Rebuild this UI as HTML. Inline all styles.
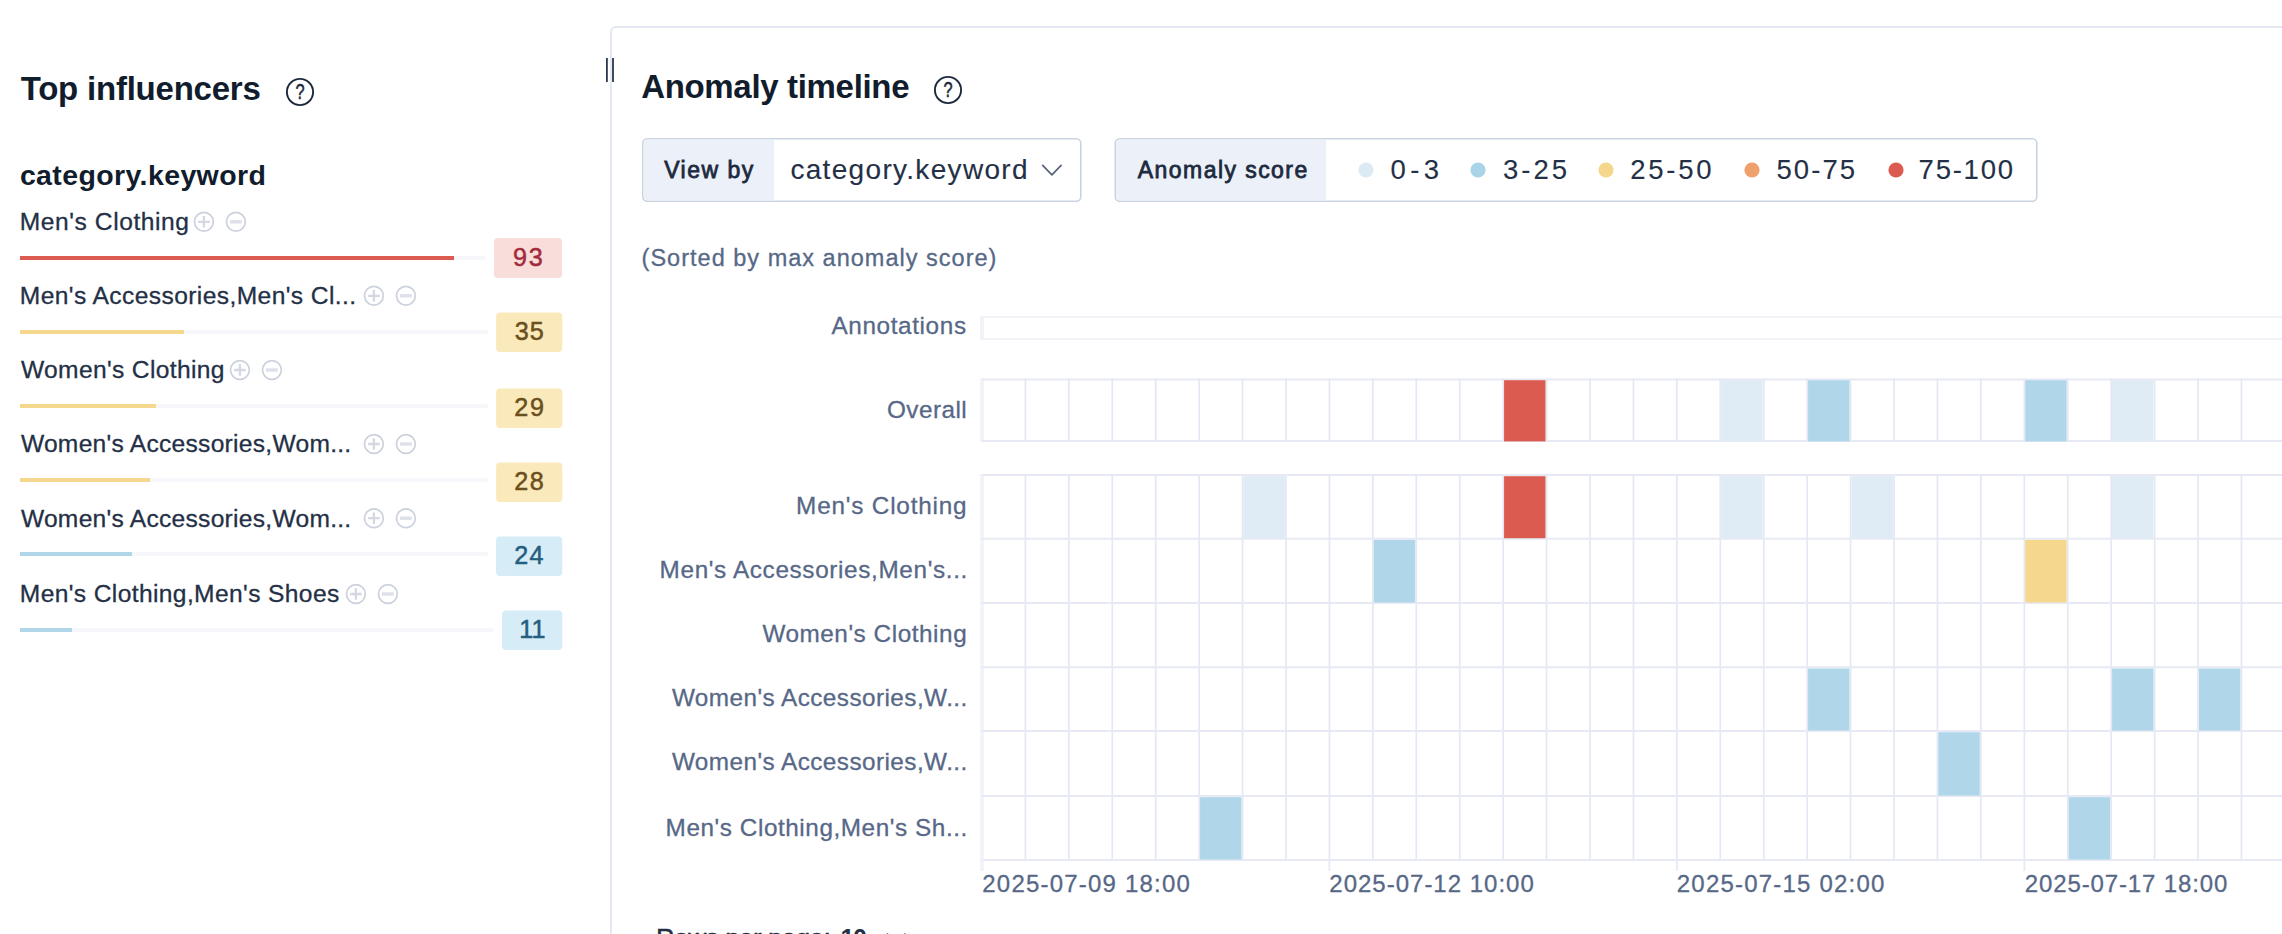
<!DOCTYPE html>
<html lang="en">
<head>
<meta charset="utf-8">
<title>Anomaly Explorer</title>
<style>
html,body{margin:0;padding:0;background:#fff}
body{width:2282px;height:934px;overflow:hidden;position:relative;font-family:"Liberation Sans",sans-serif}
section{position:absolute;left:0;top:0;width:2282px;height:934px;overflow:hidden;pointer-events:none}
.t{position:absolute;display:block;white-space:nowrap;margin:0;padding:0}
.b{position:absolute;display:block}
.w{display:block;position:static;margin:0;padding:0;border:0;list-style:none;width:0;height:0}
</style>
</head>
<body>
<section class="panel-left" aria-label="Top influencers">
<h2 class="t" style="left:20.70px;top:72.27px;font-size:33px;line-height:33px;font-weight:700;color:#111C2C;letter-spacing:-0.221px;">Top influencers</h2>
<svg class="b" style="left:285px;top:77px" width="30" height="30" viewBox="0 0 30 30"><circle cx="15" cy="15" r="13.1" fill="none" stroke="#1D2A3E" stroke-width="1.9"/><text x="15" y="22.2" transform="translate(15 22.2) scale(.8 1.07) translate(-15 -22.4)" text-anchor="middle" font-family="Liberation Sans, sans-serif" font-size="20.5" font-weight="400" stroke="#1D2A3E" stroke-width="0.5" fill="#1D2A3E">?</text></svg>
<h3 class="t" style="left:19.90px;top:161.17px;font-size:28.5px;line-height:28.5px;font-weight:700;color:#111C2C;letter-spacing:0.380px;">category.keyword</h3>
<ul class="w influencers">
<li class="w influencer">
<span class="t" style="left:19.80px;top:209.88px;font-size:24.6px;line-height:24.6px;font-weight:400;-webkit-text-stroke:0.3px #243046;color:#243046;letter-spacing:0.562px;">Men's Clothing</span>
<svg class="b" style="left:192px;top:210px" width="23" height="23" viewBox="0 0 23 23"><circle cx="11.90" cy="11.80" r="9.4" fill="none" stroke="#CBD1DD" stroke-width="1.7"/><path d="M6.10 11.80h11.6M11.90 6.00v11.6" stroke="#D3D8E2" stroke-width="2.3" fill="none"/></svg>
<svg class="b" style="left:224px;top:210px" width="23" height="23" viewBox="0 0 23 23"><circle cx="11.90" cy="11.80" r="9.4" fill="none" stroke="#CBD1DD" stroke-width="1.7"/><path d="M6.00 11.80h11.8" stroke="#DEE1E9" stroke-width="3.4" fill="none"/></svg>
<div class="b track" style="left:20px;top:256px;width:466px;height:4px;background:#F5F7FA;border-radius:0 2px 2px 0"></div>
<div class="b fill" style="left:20px;top:256px;width:434px;height:4px;background:#DC5B50"></div>
<svg class="b" style="left:492px;top:236px" width="74" height="46"><rect x="2" y="2" width="68" height="40" rx="4" fill="#F8DDDA"/></svg>
<span class="t score" style="left:513.10px;top:244.67px;font-size:25.2px;line-height:25.2px;font-weight:400;-webkit-text-stroke:0.3px #A32B3C;color:#A32B3C;letter-spacing:1.700px;-webkit-text-stroke:0.5px #A32B3C">93</span>
</li>
<li class="w influencer">
<span class="t" style="left:19.80px;top:283.88px;font-size:24.6px;line-height:24.6px;font-weight:400;-webkit-text-stroke:0.3px #243046;color:#243046;letter-spacing:0.400px;">Men's Accessories,Men's Cl...</span>
<svg class="b" style="left:362px;top:284px" width="23" height="23" viewBox="0 0 23 23"><circle cx="11.90" cy="11.80" r="9.4" fill="none" stroke="#CBD1DD" stroke-width="1.7"/><path d="M6.10 11.80h11.6M11.90 6.00v11.6" stroke="#D3D8E2" stroke-width="2.3" fill="none"/></svg>
<svg class="b" style="left:394px;top:284px" width="23" height="23" viewBox="0 0 23 23"><circle cx="11.90" cy="11.80" r="9.4" fill="none" stroke="#CBD1DD" stroke-width="1.7"/><path d="M6.00 11.80h11.8" stroke="#DEE1E9" stroke-width="3.4" fill="none"/></svg>
<div class="b track" style="left:20px;top:330px;width:468px;height:4px;background:#F5F7FA;border-radius:0 2px 2px 0"></div>
<div class="b fill" style="left:20px;top:330px;width:164px;height:4px;background:#F5D88D"></div>
<svg class="b" style="left:494px;top:310px" width="72" height="45"><rect x="2.1000000000000227" y="2.5" width="66.2" height="39.5" rx="4" fill="#FAE9BA"/></svg>
<span class="t score" style="left:514.65px;top:318.92px;font-size:25.2px;line-height:25.2px;font-weight:400;-webkit-text-stroke:0.3px #6B4F1C;color:#6B4F1C;letter-spacing:1.200px;-webkit-text-stroke:0.5px #6B4F1C">35</span>
</li>
<li class="w influencer">
<span class="t" style="left:20.90px;top:357.88px;font-size:24.6px;line-height:24.6px;font-weight:400;-webkit-text-stroke:0.3px #243046;color:#243046;letter-spacing:0.353px;">Women's Clothing</span>
<svg class="b" style="left:228px;top:359px" width="23" height="23" viewBox="0 0 23 23"><circle cx="11.90" cy="11.00" r="9.4" fill="none" stroke="#CBD1DD" stroke-width="1.7"/><path d="M6.10 11.00h11.6M11.90 5.20v11.6" stroke="#D3D8E2" stroke-width="2.3" fill="none"/></svg>
<svg class="b" style="left:260px;top:359px" width="23" height="23" viewBox="0 0 23 23"><circle cx="11.90" cy="11.00" r="9.4" fill="none" stroke="#CBD1DD" stroke-width="1.7"/><path d="M6.00 11.00h11.8" stroke="#DEE1E9" stroke-width="3.4" fill="none"/></svg>
<div class="b track" style="left:20px;top:404px;width:468px;height:4px;background:#F5F7FA;border-radius:0 2px 2px 0"></div>
<div class="b fill" style="left:20px;top:404px;width:136px;height:4px;background:#F5D88D"></div>
<svg class="b" style="left:494px;top:386px" width="72" height="45"><rect x="2.1000000000000227" y="2.5" width="66.2" height="39.5" rx="4" fill="#FAE9BA"/></svg>
<span class="t score" style="left:514.35px;top:394.92px;font-size:25.2px;line-height:25.2px;font-weight:400;-webkit-text-stroke:0.3px #6B4F1C;color:#6B4F1C;letter-spacing:1.600px;-webkit-text-stroke:0.5px #6B4F1C">29</span>
</li>
<li class="w influencer">
<span class="t" style="left:20.90px;top:431.88px;font-size:24.6px;line-height:24.6px;font-weight:400;-webkit-text-stroke:0.3px #243046;color:#243046;letter-spacing:0.268px;">Women's Accessories,Wom...</span>
<svg class="b" style="left:362px;top:433px" width="23" height="23" viewBox="0 0 23 23"><circle cx="11.90" cy="11.00" r="9.4" fill="none" stroke="#CBD1DD" stroke-width="1.7"/><path d="M6.10 11.00h11.6M11.90 5.20v11.6" stroke="#D3D8E2" stroke-width="2.3" fill="none"/></svg>
<svg class="b" style="left:394px;top:433px" width="23" height="23" viewBox="0 0 23 23"><circle cx="11.90" cy="11.00" r="9.4" fill="none" stroke="#CBD1DD" stroke-width="1.7"/><path d="M6.00 11.00h11.8" stroke="#DEE1E9" stroke-width="3.4" fill="none"/></svg>
<div class="b track" style="left:20px;top:478px;width:468px;height:4px;background:#F5F7FA;border-radius:0 2px 2px 0"></div>
<div class="b fill" style="left:20px;top:478px;width:130px;height:4px;background:#F5D88D"></div>
<svg class="b" style="left:494px;top:460px" width="72" height="45"><rect x="2.1000000000000227" y="2.5" width="66.2" height="39.5" rx="4" fill="#FAE9BA"/></svg>
<span class="t score" style="left:514.35px;top:468.92px;font-size:25.2px;line-height:25.2px;font-weight:400;-webkit-text-stroke:0.3px #6B4F1C;color:#6B4F1C;letter-spacing:1.500px;-webkit-text-stroke:0.5px #6B4F1C">28</span>
</li>
<li class="w influencer">
<span class="t" style="left:20.90px;top:507.38px;font-size:24.6px;line-height:24.6px;font-weight:400;-webkit-text-stroke:0.3px #243046;color:#243046;letter-spacing:0.268px;">Women's Accessories,Wom...</span>
<svg class="b" style="left:362px;top:507px" width="23" height="23" viewBox="0 0 23 23"><circle cx="11.90" cy="11.20" r="9.4" fill="none" stroke="#CBD1DD" stroke-width="1.7"/><path d="M6.10 11.20h11.6M11.90 5.40v11.6" stroke="#D3D8E2" stroke-width="2.3" fill="none"/></svg>
<svg class="b" style="left:394px;top:507px" width="23" height="23" viewBox="0 0 23 23"><circle cx="11.90" cy="11.20" r="9.4" fill="none" stroke="#CBD1DD" stroke-width="1.7"/><path d="M6.00 11.20h11.8" stroke="#DEE1E9" stroke-width="3.4" fill="none"/></svg>
<div class="b track" style="left:20px;top:552px;width:468px;height:4px;background:#F5F7FA;border-radius:0 2px 2px 0"></div>
<div class="b fill" style="left:20px;top:552px;width:112px;height:4px;background:#B0D6EA"></div>
<svg class="b" style="left:494px;top:534px" width="72" height="45"><rect x="2.1000000000000227" y="2.5" width="66.2" height="39.5" rx="4" fill="#D6ECF7"/></svg>
<span class="t score" style="left:514.35px;top:542.92px;font-size:25.2px;line-height:25.2px;font-weight:400;-webkit-text-stroke:0.3px #245E80;color:#245E80;letter-spacing:1.200px;-webkit-text-stroke:0.5px #245E80">24</span>
</li>
<li class="w influencer">
<span class="t" style="left:19.80px;top:581.88px;font-size:24.6px;line-height:24.6px;font-weight:400;-webkit-text-stroke:0.3px #243046;color:#243046;letter-spacing:0.372px;">Men's Clothing,Men's Shoes</span>
<svg class="b" style="left:344px;top:583px" width="23" height="23" viewBox="0 0 23 23"><circle cx="11.90" cy="11.00" r="9.4" fill="none" stroke="#CBD1DD" stroke-width="1.7"/><path d="M6.10 11.00h11.6M11.90 5.20v11.6" stroke="#D3D8E2" stroke-width="2.3" fill="none"/></svg>
<svg class="b" style="left:376px;top:583px" width="23" height="23" viewBox="0 0 23 23"><circle cx="11.90" cy="11.00" r="9.4" fill="none" stroke="#CBD1DD" stroke-width="1.7"/><path d="M6.00 11.00h11.8" stroke="#DEE1E9" stroke-width="3.4" fill="none"/></svg>
<div class="b track" style="left:20px;top:628px;width:474px;height:4px;background:#F5F7FA;border-radius:0 2px 2px 0"></div>
<div class="b fill" style="left:20px;top:628px;width:52px;height:4px;background:#B0D6EA"></div>
<svg class="b" style="left:500px;top:608px" width="66" height="45"><rect x="2.1000000000000227" y="2.5" width="60.2" height="39.5" rx="4" fill="#D6ECF7"/></svg>
<span class="t score" style="left:519.30px;top:616.92px;font-size:25.2px;line-height:25.2px;font-weight:400;-webkit-text-stroke:0.3px #245E80;color:#245E80;letter-spacing:0.000px;-webkit-text-stroke:0.5px #245E80">11</span>
</li>
</ul>
</section>
<section class="panel-right" aria-label="Anomaly timeline">
<div class="b panel" style="left:610px;top:26px;width:1700px;height:940px;border:2px solid #E3E8F2;border-radius:6px;box-sizing:border-box"></div>
<svg class="b" style="left:600px;top:54px" width="20" height="32"><path d="M6.9 4v24M13 4v24" stroke="#2B3850" stroke-width="1.8" fill="none"/></svg>
<h2 class="t" style="left:641.20px;top:70.27px;font-size:33px;line-height:33px;font-weight:700;color:#111C2C;letter-spacing:-0.327px;">Anomaly timeline</h2>
<svg class="b" style="left:933px;top:75px" width="30" height="30" viewBox="0 0 30 30"><circle cx="15" cy="15" r="13.1" fill="none" stroke="#1D2A3E" stroke-width="1.9"/><text x="15" y="22.2" transform="translate(15 22.2) scale(.8 1.07) translate(-15 -22.4)" text-anchor="middle" font-family="Liberation Sans, sans-serif" font-size="20.5" font-weight="400" stroke="#1D2A3E" stroke-width="0.5" fill="#1D2A3E">?</text></svg>
<div class="w controls">
<div class="w viewby">
<svg class="b" style="left:640px;top:136px" width="446" height="68" viewBox="0 0 446 68"><rect x="2.8" y="2.8" width="438.0" height="62.4" rx="4.5" fill="#fff" stroke="#CAD3E2" stroke-width="1.6"/><path d="M8.5 3.6H134V64.4H8.5a5 5 0 0 1-5-5V8.6a5 5 0 0 1 5-5z" fill="#ECF1F9"/></svg>
<label class="t" style="left:664.20px;top:158.53px;font-size:23px;line-height:23px;font-weight:400;-webkit-text-stroke:0.3px #1D2A3E;color:#1D2A3E;letter-spacing:1.500px;-webkit-text-stroke:0.8px #1D2A3E">View by</label>
<span class="t" role="combobox" style="left:790.40px;top:156.30px;font-size:28px;line-height:28px;font-weight:400;-webkit-text-stroke:0.12px #243046;color:#243046;letter-spacing:1.320px;">category.keyword</span>
<svg class="b" style="left:1040px;top:160px" width="24" height="20" viewBox="0 0 24 20"><path d="M2.7 5.4L11.9 14.8 21.1 5.4" fill="none" stroke="#566378" stroke-width="1.7" stroke-linecap="round" stroke-linejoin="round"/></svg>
</div>
<div class="w legend">
<svg class="b" style="left:1112px;top:136px" width="930" height="68" viewBox="0 0 930 68"><rect x="3.3" y="2.8" width="921.5" height="62.4" rx="4.5" fill="#fff" stroke="#CAD3E2" stroke-width="1.6"/><path d="M9 3.6H214V64.4H9a5 5 0 0 1-5-5V8.6a5 5 0 0 1 5-5z" fill="#ECF1F9"/></svg>
<label class="t" style="left:1137.80px;top:158.73px;font-size:23px;line-height:23px;font-weight:400;-webkit-text-stroke:0.3px #1D2A3E;color:#1D2A3E;letter-spacing:1.442px;-webkit-text-stroke:0.8px #1D2A3E">Anomaly score</label>
<ul class="w">
<li class="w">
<svg class="b" style="left:1356px;top:160px" width="20" height="20"><circle cx="10" cy="10" r="7.6" fill="#DCEAF4"/></svg>
<span class="t" style="left:1390.50px;top:156.22px;font-size:27.5px;line-height:27.5px;font-weight:400;-webkit-text-stroke:0.12px #243046;color:#243046;letter-spacing:4.450px;">0-3</span>
</li>
<li class="w">
<svg class="b" style="left:1468px;top:160px" width="20" height="20"><circle cx="10" cy="10" r="7.6" fill="#A9D4E8"/></svg>
<span class="t" style="left:1503.00px;top:156.22px;font-size:27.5px;line-height:27.5px;font-weight:400;-webkit-text-stroke:0.12px #243046;color:#243046;letter-spacing:3.033px;">3-25</span>
</li>
<li class="w">
<svg class="b" style="left:1596px;top:160px" width="20" height="20"><circle cx="10" cy="10" r="7.6" fill="#F5D78C"/></svg>
<span class="t" style="left:1630.20px;top:156.22px;font-size:27.5px;line-height:27.5px;font-weight:400;-webkit-text-stroke:0.12px #243046;color:#243046;letter-spacing:2.750px;">25-50</span>
</li>
<li class="w">
<svg class="b" style="left:1742px;top:160px" width="20" height="20"><circle cx="10" cy="10" r="7.6" fill="#F0A06C"/></svg>
<span class="t" style="left:1776.40px;top:156.22px;font-size:27.5px;line-height:27.5px;font-weight:400;-webkit-text-stroke:0.12px #243046;color:#243046;letter-spacing:2.100px;">50-75</span>
</li>
<li class="w">
<svg class="b" style="left:1886px;top:160px" width="20" height="20"><circle cx="10" cy="10" r="7.6" fill="#DC5B50"/></svg>
<span class="t" style="left:1918.60px;top:156.22px;font-size:27.5px;line-height:27.5px;font-weight:400;-webkit-text-stroke:0.12px #243046;color:#243046;letter-spacing:1.760px;">75-100</span>
</li>
</ul>
</div>
</div>
<p class="t" style="left:641.60px;top:247.11px;font-size:23.5px;line-height:23.5px;font-weight:400;-webkit-text-stroke:0.3px #576887;color:#576887;letter-spacing:1.011px;">(Sorted by max anomaly score)</p>
<div class="w swimlanes">
<span class="t" style="left:831.50px;top:313.83px;font-size:24.3px;line-height:24.3px;font-weight:400;-webkit-text-stroke:0.3px #576887;color:#576887;letter-spacing:0.620px;">Annotations</span>
<span class="t" style="left:886.90px;top:397.83px;font-size:24.3px;line-height:24.3px;font-weight:400;-webkit-text-stroke:0.3px #576887;color:#576887;letter-spacing:0.483px;">Overall</span>
<span class="t" style="left:796.10px;top:493.83px;font-size:24.3px;line-height:24.3px;font-weight:400;-webkit-text-stroke:0.3px #576887;color:#576887;letter-spacing:0.815px;">Men's Clothing</span>
<span class="t" style="left:659.60px;top:557.83px;font-size:24.3px;line-height:24.3px;font-weight:400;-webkit-text-stroke:0.3px #576887;color:#576887;letter-spacing:0.648px;">Men's Accessories,Men's...</span>
<span class="t" style="left:762.40px;top:621.83px;font-size:24.3px;line-height:24.3px;font-weight:400;-webkit-text-stroke:0.3px #576887;color:#576887;letter-spacing:0.553px;">Women's Clothing</span>
<span class="t" style="left:671.90px;top:685.83px;font-size:24.3px;line-height:24.3px;font-weight:400;-webkit-text-stroke:0.3px #576887;color:#576887;letter-spacing:0.452px;">Women's Accessories,W...</span>
<span class="t" style="left:671.90px;top:749.83px;font-size:24.3px;line-height:24.3px;font-weight:400;-webkit-text-stroke:0.3px #576887;color:#576887;letter-spacing:0.452px;">Women's Accessories,W...</span>
<span class="t" style="left:665.60px;top:815.83px;font-size:24.3px;line-height:24.3px;font-weight:400;-webkit-text-stroke:0.3px #576887;color:#576887;letter-spacing:0.568px;">Men's Clothing,Men's Sh...</span>
<div class="b annotations" style="left:980px;top:316px;width:1320px;height:24px;border:2px solid #F0F2F8;border-left:4px solid #F1F3F9;box-sizing:border-box"></div>
<span class="t" style="left:982.30px;top:871.68px;font-size:24px;line-height:24px;font-weight:400;-webkit-text-stroke:0.3px #576887;color:#576887;letter-spacing:1.200px;">2025-07-09 18:00</span>
<span class="t" style="left:1329.30px;top:871.68px;font-size:24px;line-height:24px;font-weight:400;-webkit-text-stroke:0.3px #576887;color:#576887;letter-spacing:1.000px;">2025-07-12 10:00</span>
<span class="t" style="left:1676.80px;top:871.68px;font-size:24px;line-height:24px;font-weight:400;-webkit-text-stroke:0.3px #576887;color:#576887;letter-spacing:1.200px;">2025-07-15 02:00</span>
<span class="t" style="left:2024.80px;top:871.68px;font-size:24px;line-height:24px;font-weight:400;-webkit-text-stroke:0.3px #576887;color:#576887;letter-spacing:0.867px;">2025-07-17 18:00</span>
<svg class="b heatmap" style="left:0;top:0" width="2282" height="934" viewBox="0 0 2282 934" role="img" aria-label="Anomaly swim lanes"><path d="M982.0 378.5V442" stroke="#F1F3F9" stroke-width="3.8" fill="none"/><path d="M1025.43 378.5V442M1068.86 378.5V442M1112.29 378.5V442M1155.72 378.5V442M1199.15 378.5V442M1242.58 378.5V442M1286.01 378.5V442M1329.44 378.5V442M1372.87 378.5V442M1416.30 378.5V442M1459.73 378.5V442M1503.16 378.5V442M1546.59 378.5V442M1590.02 378.5V442M1633.45 378.5V442M1676.88 378.5V442M1720.31 378.5V442M1763.74 378.5V442M1807.17 378.5V442M1850.60 378.5V442M1894.03 378.5V442M1937.46 378.5V442M1980.89 378.5V442M2024.32 378.5V442M2067.75 378.5V442M2111.18 378.5V442M2154.61 378.5V442M2198.04 378.5V442M2241.47 378.5V442M2284.90 378.5V442" stroke="#E4E8F2" stroke-width="1.7" fill="none"/><path d="M981.5 379.5H2300M981.5 441H2300" stroke="#E7EAF4" stroke-width="2.1" fill="none"/><rect x="1504.06" y="380.20" width="41.43" height="61.20" fill="#DC5B50"/><rect x="1721.21" y="380.20" width="41.43" height="61.20" fill="#DFECF6"/><rect x="1808.07" y="380.20" width="41.43" height="61.20" fill="#B0D6EA"/><rect x="2025.22" y="380.20" width="41.43" height="61.20" fill="#B0D6EA"/><rect x="2112.08" y="380.20" width="41.43" height="61.20" fill="#DFECF6"/><path d="M982.0 474V861" stroke="#F1F3F9" stroke-width="3.8" fill="none"/><path d="M1025.43 474V861M1068.86 474V861M1112.29 474V861M1155.72 474V861M1199.15 474V861M1242.58 474V861M1286.01 474V861M1329.44 474V861M1372.87 474V861M1416.30 474V861M1459.73 474V861M1503.16 474V861M1546.59 474V861M1590.02 474V861M1633.45 474V861M1676.88 474V861M1720.31 474V861M1763.74 474V861M1807.17 474V861M1850.60 474V861M1894.03 474V861M1937.46 474V861M1980.89 474V861M2024.32 474V861M2067.75 474V861M2111.18 474V861M2154.61 474V861M2198.04 474V861M2241.47 474V861M2284.90 474V861" stroke="#E4E8F2" stroke-width="1.7" fill="none"/><path d="M981.5 475H2300M981.5 538.7H2300M981.5 603H2300M981.5 667.3H2300M981.5 731H2300M981.5 796H2300M981.5 860H2300" stroke="#E7EAF4" stroke-width="2.1" fill="none"/><rect x="1243.48" y="476.20" width="41.43" height="62.00" fill="#DFECF6"/><rect x="1504.06" y="476.20" width="41.43" height="62.00" fill="#DC5B50"/><rect x="1721.21" y="476.20" width="41.43" height="62.00" fill="#DFECF6"/><rect x="1851.50" y="476.20" width="41.43" height="62.00" fill="#DFECF6"/><rect x="2112.08" y="476.20" width="41.43" height="62.00" fill="#DFECF6"/><rect x="1373.77" y="539.90" width="41.43" height="62.60" fill="#B0D6EA"/><rect x="2025.22" y="539.90" width="41.43" height="62.60" fill="#F5D88D"/><rect x="1808.07" y="668.50" width="41.43" height="62.00" fill="#B0D6EA"/><rect x="2112.08" y="668.50" width="41.43" height="62.00" fill="#B0D6EA"/><rect x="2198.94" y="668.50" width="41.43" height="62.00" fill="#B0D6EA"/><rect x="1938.36" y="732.20" width="41.43" height="63.30" fill="#B0D6EA"/><rect x="1200.05" y="797.20" width="41.43" height="62.30" fill="#B0D6EA"/><rect x="2068.65" y="797.20" width="41.43" height="62.30" fill="#B0D6EA"/><path d="M982.00 860V871" stroke="#F1F3F9" stroke-width="3.4" fill="none"/><path d="M1329.44 860V871" stroke="#E7EAF4" stroke-width="1.8" fill="none"/><path d="M1676.88 860V871" stroke="#E7EAF4" stroke-width="1.8" fill="none"/><path d="M2024.32 860V871" stroke="#E7EAF4" stroke-width="1.8" fill="none"/></svg>
</div>
<div class="w pagination">
<span class="t" style="left:656.30px;top:926.04px;font-size:25px;line-height:25px;font-weight:400;-webkit-text-stroke:0.3px #243046;color:#243046;letter-spacing:-0.062px;-webkit-text-stroke:0.6px #1D2A3E">Rows per page:</span>
<span class="t" style="left:840.50px;top:926.04px;font-size:25px;line-height:25px;font-weight:700;color:#243046;letter-spacing:-1.300px;">10</span>
<svg class="b" style="left:884px;top:928px" width="24" height="20" viewBox="0 0 24 20"><path d="M3.5 6.5l8.7 8 8.7-8" fill="none" stroke="#1D2A3E" stroke-width="2.2" stroke-linecap="round" stroke-linejoin="round"/></svg>
</div>
</section>
</body>
</html>
